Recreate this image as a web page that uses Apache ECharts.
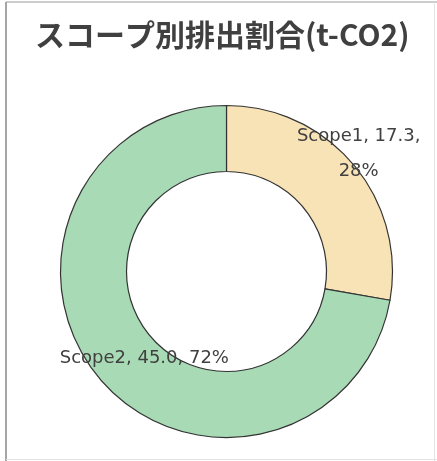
<!DOCTYPE html>
<html>
<head>
<meta charset="utf-8">
<script src="https://cdn.jsdelivr.net/npm/echarts@6/dist/echarts.min.js"></script>
<style>
html,body{margin:0;padding:0;background:#fff;}
#c{width:437px;height:461px;}
</style>
</head>
<body>
<div id="c"></div>
<script>
const titleText = 'スコープ別排出割合(t-CO2)';
const categories = ['Scope1', 'Scope2'];
const values = [17.3, 45.0];
const percents = [28, 72];
const colors = ['#F7E3B6', '#A8DBB5'];
const labelShift = [[28, -30], [22, -1]];

const chart = echarts.init(document.getElementById('c'), null, {renderer: 'canvas'});
const data = categories.map((c, i) => ({
  name: c,
  value: values[i],
  itemStyle: {color: colors[i]},
  label: {formatter: i === 0 ? c + ', ' + values[i].toFixed(1) + ',\n' + percents[i] + '%' : c + ', ' + values[i].toFixed(1) + ', ' + percents[i] + '%'}
}));

chart.setOption({
  animation: false,
  title: {
    text: titleText,
    left: 30,
    top: 15,
    textStyle: {fontFamily: 'Noto Sans CJK JP', fontWeight: 'bold', fontSize: 30, color: '#404040'}
  },
  graphic: [
    {type: 'line', shape: {x1: 6, y1: 2, x2: 6, y2: 461}, style: {stroke: '#888', lineWidth: 1.5}},
    {type: 'line', shape: {x1: 6, y1: 2, x2: 437, y2: 2}, style: {stroke: '#999', lineWidth: 1}},
    {type: 'line', shape: {x1: 434.5, y1: 2, x2: 434.5, y2: 461}, style: {stroke: '#e4e4e4', lineWidth: 1}},
    {type: 'line', shape: {x1: 6, y1: 459.5, x2: 437, y2: 459.5}, style: {stroke: '#e4e4e4', lineWidth: 1}}
  ],
  series: [{
    type: 'pie',
    center: [226.5, 271.5],
    radius: [100, 166],
    startAngle: 90,
    clockwise: true,
    data: data,
    itemStyle: {borderColor: '#333', borderWidth: 1.2},
    label: {
      position: 'inside',
      fontFamily: 'DejaVu Sans',
      fontSize: 18,
      lineHeight: 35,
      color: '#404040'
    },
    labelLine: {show: false},
    labelLayout: function (p) {
      const s = labelShift[p.dataIndex];
      return {dx: s[0], dy: s[1]};
    },
    emphasis: {disabled: true}
  }]
});
</script>
</body>
</html>
